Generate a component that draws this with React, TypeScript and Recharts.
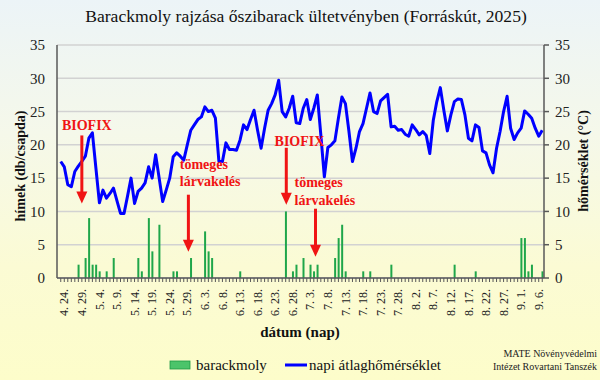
import React from 'react';
import { ComposedChart, Bar, Line, XAxis, YAxis, CartesianGrid, ReferenceDot } from 'recharts';

const SERIF = "'Liberation Serif', 'Times New Roman', serif";

// Categories: daily dates from 4.23. to 9.7. (2025)
const startMonth = 4;
const startDay = 23;
const dayCount = 138;
const monthLengths: Record<number, number> = { 4: 30, 5: 31, 6: 30, 7: 31, 8: 31, 9: 30 };
const dates: string[] = [];
{
  let m = startMonth;
  let d = startDay;
  for (let i = 0; i < dayCount; i++) {
    dates.push(`${m}. ${d}.`);
    d++;
    if (d > monthLengths[m]) { d = 1; m++; }
  }
}
// labelled ticks: every 5th day starting with 4. 24.
const labelledDates = new Set(dates.filter((_, i) => (i - 1) % 5 === 0));

// Daily mean temperature (°C)
const temperature = [
  17.5, 16.7, 14.0, 13.7, 16.0, 16.8, 17.5, 18.3, 21.0, 21.8,
  16.5, 11.3, 13.2, 12.0, 12.7, 13.5, 11.6, 9.7, 9.7, 12.3,
  15.0, 11.2, 13.0, 13.5, 14.3, 16.7, 15.0, 18.5, 15.0, 11.5,
  13.2, 15.0, 18.2, 18.8, 18.3, 17.7, 20.0, 22.2, 23.0, 23.8,
  24.2, 25.7, 25.0, 25.2, 24.0, 17.5, 17.5, 20.3, 19.3, 19.3,
  19.2, 20.7, 23.0, 22.3, 23.8, 25.2, 22.2, 19.5, 22.5, 25.2,
  26.2, 27.5, 29.7, 25.0, 24.2, 25.5, 27.3, 23.3, 23.2, 25.5,
  26.8, 23.8, 25.5, 27.5, 21.5, 15.2, 19.6, 20.0, 20.6, 24.0,
  27.2, 26.2, 22.0, 17.5, 19.5, 22.0, 23.2, 25.5, 27.8, 25.0,
  24.7, 26.6, 27.1, 27.6, 22.7, 22.8, 22.2, 22.3, 21.6, 21.3,
  23.0, 22.3, 21.5, 22.0, 21.4, 18.7, 23.7, 26.5, 28.6, 25.2,
  22.1, 24.5, 26.5, 26.9, 26.8, 24.5, 21.0, 20.6, 23.0, 22.6,
  19.1, 18.8, 17.0, 15.8, 19.5, 22.0, 25.0, 27.3, 22.5, 20.8,
  21.8, 22.5, 25.1, 24.6, 24.0, 22.5, 21.3, 22.2,
];

// Male moths per trap per day
const mothCatches = [
  0, 0, 0, 0, 0, 2, 0, 3, 9, 2,
  2, 1, 0, 1, 0, 3, 0, 0, 0, 0,
  0, 0, 3, 1, 0, 9, 4, 0, 8, 0,
  0, 0, 1, 1, 0, 0, 0, 3, 0, 0,
  0, 7, 4, 3, 0, 0, 0, 0, 0, 0,
  0, 1, 0, 0, 0, 0, 0, 0, 0, 0,
  0, 0, 0, 0, 10, 0, 1, 2, 0, 3,
  0, 2, 1, 2, 0, 0, 0, 0, 3, 6,
  8, 1, 0, 0, 0, 0, 1, 0, 1, 0,
  0, 0, 0, 0, 2, 0, 0, 0, 0, 0,
  0, 0, 0, 0, 0, 0, 0, 0, 0, 0,
  0, 0, 2, 0, 0, 0, 0, 0, 1, 0,
  0, 0, 0, 0, 0, 0, 0, 0, 0, 0,
  0, 6, 6, 1, 2, 0, 0, 1,
];

const yTicks = [0, 5, 10, 15, 20, 25, 30, 35];

const data = dates.map((date, i) => ({ date, moth: mothCatches[i], temp: temperature[i] }));

type Note = {
  at: number; tip: number; len: number; dx: number;
  lines: string[]; anchor: 'start' | 'middle'; tx: number; ty: number[];
};
const annotations: Note[] = [
  { at: 6, tip: 11.2, len: 68, dx: 0, lines: ['BIOFIX'], anchor: 'middle', tx: 5, ty: [-5] },
  { at: 37, tip: 3.95, len: 57, dx: -2.4, lines: ['tömeges', 'lárvakelés'], anchor: 'start', tx: -8.6, ty: [-26, -9] },
  { at: 64, tip: 11.0, len: 57, dx: 0.6, lines: ['BIOFIX'], anchor: 'middle', tx: 13.2, ty: [-1.5] },
  { at: 72, tip: 3.2, len: 48, dx: 1.7, lines: ['tömeges', 'lárvakelés'], anchor: 'start', tx: -21, ty: [-22, -4] },
];

const RED = '#f01414';
const AXIS = '#595959';

const Arrow = ({ cx, cy, a }: { cx: number; cy: number; a: Note }) => {
  const x = cx + a.dx;
  const top = cy - a.len;
  const head = 12;
  const hw = 5.5;
  return (
    <g>
      <line x1={x} y1={top} x2={x} y2={cy - head + 1} stroke={RED} strokeWidth={3} />
      <polygon points={`${x - hw},${cy - head} ${x + hw},${cy - head} ${x},${cy}`} fill={RED} />
      {a.lines.map((t, k) => (
        <text key={k} x={x + a.tx} y={top + a.ty[k]} textAnchor={a.anchor} fontFamily={SERIF}
          fontWeight="bold" fontSize={14} fill={RED}>{t}</text>
      ))}
    </g>
  );
};

const DateTick = (props: any) => {
  const { x, y, payload } = props;
  if (!labelledDates.has(payload.value)) return <g />;
  return (
    <text x={x} y={y} transform={`rotate(-90, ${x}, ${y})`} textAnchor="end" dy="0.35em"
      fontFamily={SERIF} fontSize={12} fill="#222">{payload.value}</text>
  );
};

export default function App() {
  return (
    <div style={{
      position: 'absolute', left: 0, top: 0, width: 600, height: 380, overflow: 'hidden',
      background: 'linear-gradient(180deg, #ecf4f7 0%, #f5f8ea 35%, #fbfbd4 70%, #fdfdca 100%)',
    }}>
      <ComposedChart width={600} height={380} data={data}
        margin={{ top: 45, right: 0, left: 0, bottom: 62 }} style={{ position: 'absolute', left: 0, top: 0 }}>
        <CartesianGrid vertical={false} stroke="#d2d2d2" strokeWidth={1.5} yAxisId="left" />
        <XAxis dataKey="date" interval={0} tickSize={4} tickMargin={7} height={40}
          padding={{ left: 2, right: 0 }}
          axisLine={{ stroke: AXIS, strokeWidth: 1.5 }} tickLine={{ stroke: AXIS }} tick={<DateTick />} />
        <YAxis yAxisId="left" orientation="left" width={57} domain={[0, 35]} ticks={yTicks} interval={0}
          tickLine={false} tickSize={6} tickMargin={6}
          axisLine={{ stroke: AXIS, strokeWidth: 1.5 }}
          tick={{ fontSize: 15, fill: '#222', fontFamily: SERIF }} />
        <YAxis yAxisId="right" orientation="right" width={56} domain={[0, 35]} ticks={yTicks} interval={0}
          tickSize={5} tickMargin={6}
          axisLine={{ stroke: AXIS, strokeWidth: 1.5 }} tickLine={{ stroke: AXIS, strokeWidth: 1.5 }}
          tick={{ fontSize: 15, fill: '#222', fontFamily: SERIF, textAnchor: 'start' }} />
        <Bar yAxisId="left" dataKey="moth" fill="#1fa64a" barSize={2} isAnimationActive={false} />
        <Line yAxisId="right" dataKey="temp" type="linear" stroke="#0000ff" strokeWidth={3}
          dot={false} activeDot={false} strokeLinejoin="round" isAnimationActive={false} />
        {annotations.map((a, i) => (
          <ReferenceDot key={i} x={dates[a.at]} y={a.tip} yAxisId="left" r={0}
            shape={(p: any) => <Arrow cx={p.cx} cy={p.cy} a={a} />} />
        ))}
      </ComposedChart>
      <svg width={600} height={380} style={{ position: 'absolute', left: 0, top: 0, pointerEvents: 'none' }}>
        <text x={306} y={22} textAnchor="middle" fontFamily={SERIF} fontSize={17.6} fill="#111">
          Barackmoly rajzása őszibarack ültetvényben (Forráskút, 2025)
        </text>
        <text transform="translate(20,166) rotate(-90)" textAnchor="middle" dominantBaseline="central"
          fontFamily={SERIF} fontSize={14} fontWeight="bold" fill="#111">hímek (db/csapda)</text>
        <text transform="translate(583,161) rotate(-90)" textAnchor="middle" dominantBaseline="central"
          fontFamily={SERIF} fontSize={14} fontWeight="bold" fill="#111">hőmérséklet (°C)</text>
        <text x={300} y={337} textAnchor="middle" fontFamily={SERIF} fontSize={15} fontWeight="bold" fill="#111">
          dátum (nap)
        </text>
        <rect x={170} y={361} width={20} height={8} fill="#4cc46a" stroke="#1f9a45" strokeWidth={0.8} />
        <text x={196} y={370} fontFamily={SERIF} fontSize={15} fill="#111">barackmoly</text>
        <line x1={285} x2={307} y1={365} y2={365} stroke="#0000ff" strokeWidth={3} />
        <text x={309} y={370} fontFamily={SERIF} fontSize={15} fill="#111">napi átlaghőmérséklet</text>
        <text x={597} y={357} textAnchor="end" fontFamily={SERIF} fontSize={10} fill="#222">MATE Növényvédelmi</text>
        <text x={597} y={370} textAnchor="end" fontFamily={SERIF} fontSize={10} fill="#222">Intézet Rovartani Tanszék</text>
      </svg>
    </div>
  );
}
